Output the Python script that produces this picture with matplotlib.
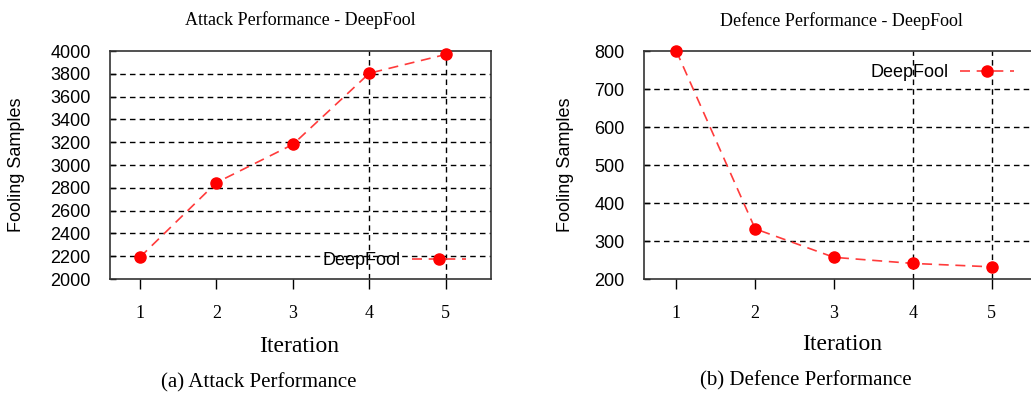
import numpy as np
import matplotlib
matplotlib.use('Agg')
import matplotlib.pyplot as plt

plt.rcParams['font.family'] = 'Liberation Sans'

iterations = [1, 2, 3, 4, 5]
attack_samples = [2190, 2845, 3180, 3805, 3970]
defence_samples = [800, 332, 257, 241, 232]
attack_yticks = [2000, 2200, 2400, 2600, 2800, 3000, 3200, 3400, 3600, 3800, 4000]
defence_yticks = [200, 300, 400, 500, 600, 700, 800]
vgrid_x = [4, 5]
series_name = 'DeepFool'

W = 10.31
H = 3.94
fig = plt.figure(figsize=(W, H), dpi=100)

serif = 'Liberation Serif'


def draw_panel(ax, y, yticks, xlim, legend_anchor):
    ax.plot(iterations, y, color='#ff3b3b', lw=1.2, dashes=(6, 4),
            marker='o', markersize=8, markerfacecolor='red', markeredgecolor='red',
            label=series_name, zorder=3, clip_on=False)
    ax.set_xlim(xlim)
    ax.set_ylim(yticks[0], yticks[-1])
    ax.set_xticks(iterations)
    ax.set_yticks(yticks)
    # horizontal grid on every inner y tick, vertical only at a couple of x
    for yy in yticks[1:-1]:
        ax.axhline(yy, color='black', lw=1.0, dashes=(4, 3), zorder=1)
    for xx in vgrid_x:
        ax.axvline(xx, color='black', lw=1.0, dashes=(4, 3), zorder=1)
    ax.tick_params(axis='x', direction='out', length=7, width=1, pad=12)
    ax.tick_params(axis='y', direction='in', length=4, width=1, pad=14, labelsize=13)
    for lab in ax.get_xticklabels():
        lab.set_fontfamily(serif)
        lab.set_fontsize(13)
    for sp in ax.spines.values():
        sp.set_linewidth(1.2)
        sp.set_color('#333333')
    ax.legend(loc='center right', bbox_to_anchor=legend_anchor, frameon=False,
              markerfirst=False, handlelength=3.0, handletextpad=0.6,
              prop={'family': 'Liberation Sans', 'size': 13})
    return ax


ax1 = fig.add_axes([110 / 1031, 1 - 279 / 394, 381 / 1031, 228 / 394])
draw_panel(ax1, attack_samples, attack_yticks, (0.61, 5.59), (0.977, 0.08))

ax2 = fig.add_axes([644 / 1031, 1 - 279 / 394, 395 / 1031, 228 / 394])
draw_panel(ax2, defence_samples, defence_yticks, (0.59, 5.6), (0.978, 0.905))
ax2.spines['right'].set_visible(False)

# titles, axis labels and captions
fig.text(300 / 1031, 1 - 20 / 394, 'Attack Performance - DeepFool', ha='center', va='center',
         fontfamily=serif, fontsize=13)
fig.text(841 / 1031, 1 - 21 / 394, 'Defence Performance - DeepFool', ha='center', va='center',
         fontfamily=serif, fontsize=13)
fig.text(17 / 1031, 1 - 165 / 394, 'Fooling Samples', rotation=90, ha='center', va='center',
         fontsize=13)
fig.text(566 / 1031, 1 - 165 / 394, 'Fooling Samples', rotation=90, ha='center', va='center',
         fontsize=13)
fig.text(299 / 1031, 1 - 346 / 394, 'Iteration', ha='center', va='center',
         fontfamily=serif, fontsize=17)
fig.text(842 / 1031, 1 - 344 / 394, 'Iteration', ha='center', va='center',
         fontfamily=serif, fontsize=17)
fig.text(259 / 1031, 1 - 383 / 394, '(a) Attack Performance', ha='center', va='center',
         fontfamily=serif, fontsize=15)
fig.text(806 / 1031, 1 - 381 / 394, '(b) Defence Performance', ha='center', va='center',
         fontfamily=serif, fontsize=15)

plt.savefig('out.png', dpi=100)
plt.close()
